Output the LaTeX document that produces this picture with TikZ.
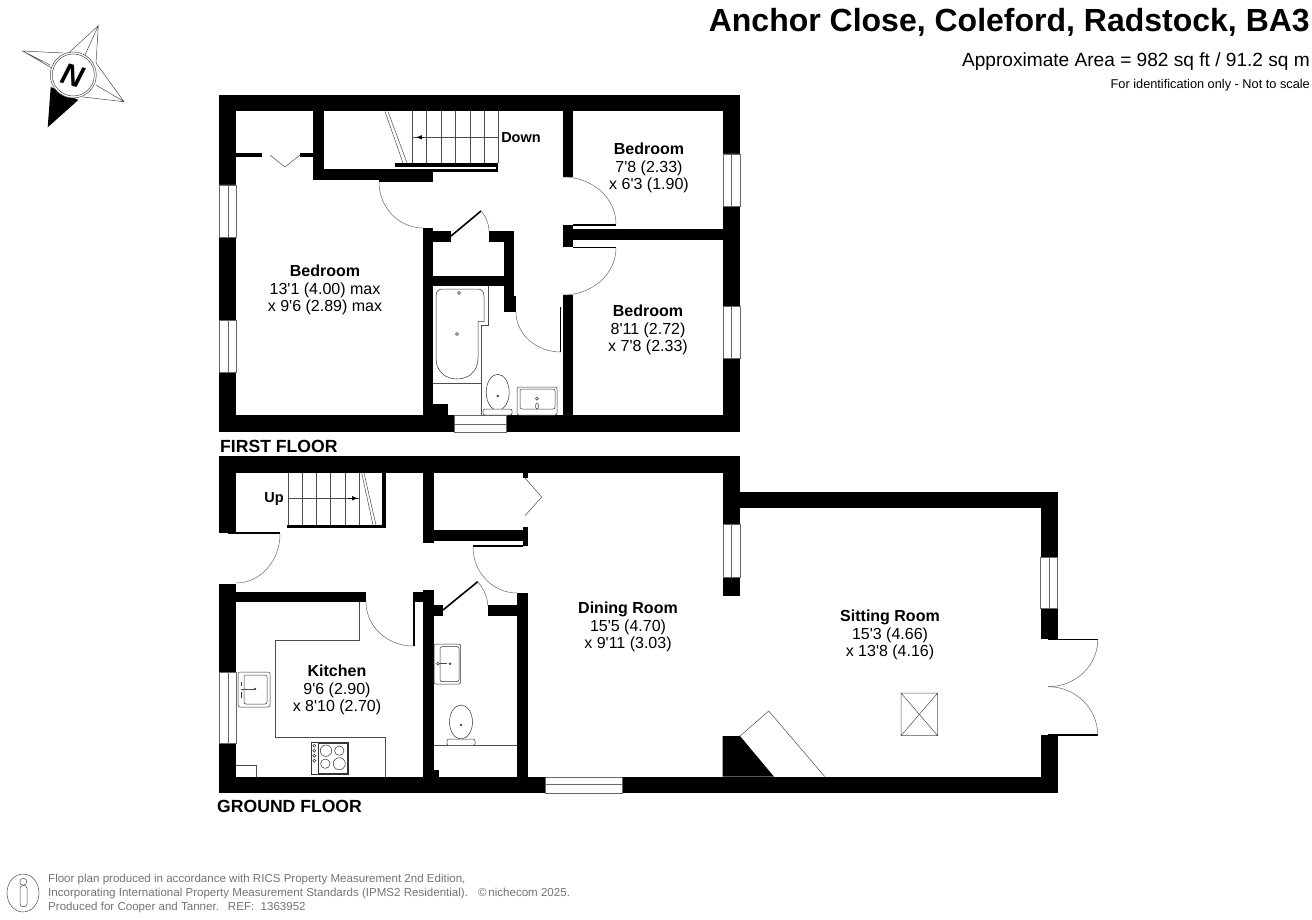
\documentclass[tikz,border=0pt]{standalone}
\usepackage{fontspec}
\setmainfont{Liberation Sans}[Ligatures=TeXOff]
\tikzset{
	wall/.style={fill=black},
	window/.style={fill=white,draw=black!60,line width=0.7pt},
	thinline/.style={draw=black!70,line width=0.5pt},
	fixture/.style={draw=black!80,line width=0.5pt,fill=white},
	swing/.style={draw=black!60,line width=0.5pt},
	roomlabel/.style={align=center,font=\fontsize{16}{17.5}\selectfont,inner sep=0pt},
	floorlabel/.style={anchor=west,font=\fontsize{17.6}{20}\selectfont\bfseries,inner sep=0pt},
	footer/.style={anchor=west,text=black!55,font=\fontsize{11.55}{13}\selectfont,inner sep=0pt},
	heading/.style={anchor=east,inner sep=0pt}
}

\begin{document}
\begin{tikzpicture}[x=1pt,y=-1pt]
	\useasboundingbox (0,0) rectangle (1312,920);

	% compass
	\fill (47.7,127.3) -- (50.7,87) -- (78.3,100) -- cycle;
	\draw[thinline] (70,51.7) -- (98.3,25.7) -- (96,63) (85,55) -- (98.3,25.7);
	\draw[thinline] (63,53) -- (22.7,51) -- (51.7,68) (50,65) -- (22.7,51);
	\draw[thinline] (96,63) -- (124,101.7) -- (83,97) (96,85) -- (124,101.7);
	\draw[fill=white,thinline] (73.3,75) circle (23);
	\draw[thinline] (73.3,75) circle (21);
	\node[rotate=-16,font=\fontsize{30}{30}\selectfont\bfseries\itshape,inner sep=0pt] (compassn) at (73,76) {N};

	% first floor walls
	\fill[wall] (219,95) rectangle (740,111.5);
	\fill[wall] (219,95) rectangle (236,432);
	\fill[wall] (723,95) rectangle (740,432);
	\fill[wall] (219,415) rectangle (740,432);
	\fill[wall] (313,111) rectangle (324,180);
	\fill[wall] (313,169) rectangle (433,180);
	\fill[wall] (379,180) rectangle (433,182);
	\fill[wall] (433,169) rectangle (498,172.5);
	\fill[wall] (395,163) rectangle (498,167);
	\fill[wall] (496,163) rectangle (498,172.5);
	\fill[wall] (236,153) rectangle (262,157);
	\fill[wall] (300,153) rectangle (313,157);
	\fill[wall] (423,228) rectangle (433,415);
	\fill[wall] (433,231) rectangle (451,242);
	\fill[wall] (489,231) rectangle (514,242);
	\fill[wall] (504,231) rectangle (514,296);
	\fill[wall] (504,296) rectangle (516,312);
	\fill[wall] (433,276) rectangle (504,286);
	\fill[wall] (433,404) rectangle (448,415);
	\fill[wall] (563,111) rectangle (573,177);
	\fill[wall] (563,225) rectangle (573,247);
	\fill[wall] (573,229) rectangle (723,240);
	\fill[wall] (573,224.5) rectangle (616,226);
	\fill[wall] (573,247) rectangle (616,248.5);
	\fill[wall] (563,295) rectangle (573,415);
	\fill[wall] (560,307) rectangle (561,352);

	% first floor windows
	\draw[window] (219,185) rectangle (236,237) (228,185) -- (228,237);
	\draw[window] (219,320) rectangle (236,372) (228,320) -- (228,372);
	\draw[window] (723,154) rectangle (740,206) (731,154) -- (731,206);
	\draw[window] (723,306) rectangle (740,358) (731,306) -- (731,358);
	\draw[window] (454,415) rectangle (506,432) (454,424) -- (506,424);

	% stairs going down
	\foreach \treadx in {412.7,426.7,441,455.7,470,484,498}
		\draw[thinline] (\treadx,111) -- (\treadx,163);
	\draw[thinline] (498,137.3) -- (412.7,137.3);
	\draw[-latex,line width=1pt] (424,137.3) -- (416,137.3);
	\draw[thinline] (385,111.5) -- (403,163) (388,111.5) -- (407,163);

	% first floor doors
	\draw[swing] (379,182) arc[start angle=180,end angle=90,x radius=44,y radius=46];
	\draw[swing] (563,177) arc[start angle=-90,end angle=0,x radius=53,y radius=47];
	\draw[swing] (616,248) arc[start angle=0,end angle=90,x radius=53,y radius=47];
	\draw[swing] (516,312) arc[start angle=180,end angle=90,x radius=45,y radius=40];
	\draw[line width=1.6pt] (451,236) -- (481,211);
	\draw[swing] (481,211) .. controls (486,216) and (489,224) .. (489,231);
	\draw[thinline] (270,155) -- (285,167) -- (300,155);

	% bathroom
	\draw[thinline] (488,286) -- (488,325.7) -- (481.7,325.7) -- (481.7,415) (433,383) -- (481.7,383);
	\draw[fixture] (436,297) .. controls (436,291) and (438,289) .. (443,289) -- (477,289)
		.. controls (482,289) and (484,291) .. (484,297) -- (484,321.7) -- (478,321.7) -- (478,358)
		.. controls (478,372) and (468,379) .. (457,379) .. controls (446,379) and (436,372) .. (436,358) -- cycle;
	\draw[fixture] (459,293) circle (1.5);
	\draw[fixture] (457,334) circle (1.5);
	\draw[fixture] (497.7,392.3) ellipse (11.5 and 18);
	\draw[fixture] (497.7,396) circle (1);
	\draw[fixture,rounded corners=2pt] (483,409) rectangle (512,415);
	\draw[fixture,rounded corners=2pt] (517,387) rectangle (557,415);
	\draw[fixture,rounded corners=2pt] (520,389) rectangle (555,409);
	\draw[fixture] (537,398.7) circle (1.5);
	\draw[fixture] (537,406) ellipse (1.5 and 3);

	% ground floor walls
	\fill[wall] (219,456) rectangle (740,473);
	\fill[wall] (219,456) rectangle (236,532.7);
	\fill[wall] (228,532) rectangle (280,534);
	\fill[wall] (219,584) rectangle (236,793);
	\fill[wall] (219,776.5) rectangle (1057.5,793);
	\fill[wall] (723,456) rectangle (740,524);
	\fill[wall] (723,577) rectangle (740,596);
	\fill[wall] (740,491.5) rectangle (1057.5,508);
	\fill[wall] (1040.5,491.5) rectangle (1057.5,639);
	\fill[wall] (1048,638.5) rectangle (1097.7,640);
	\fill[wall] (1048,734) rectangle (1097.7,736);
	\fill[wall] (1040.5,735) rectangle (1057.5,793);
	\fill[wall] (287,525) rectangle (386,528);
	\fill[wall] (382,473) rectangle (386,528);
	\fill[wall] (423,473) rectangle (434,542.7);
	\fill[wall] (434,530) rectangle (527,541);
	\fill[wall] (523,527) rectangle (528,546);
	\fill[wall] (523,473) rectangle (528,478);
	\fill[wall] (473,545) rectangle (523,547);
	\fill[wall] (236,592) rectangle (366,602);
	\fill[wall] (423,590) rectangle (434,793);
	\fill[wall] (413,592) rectangle (423,602);
	\fill[wall] (413,602) rectangle (414.5,646);
	\fill[wall] (434,605) rectangle (443,616);
	\fill[wall] (487.7,605) rectangle (517,615.7);
	\fill[wall] (517,593) rectangle (528,793);
	\fill[wall] (434,770) rectangle (439,776.5);
	\fill[wall] (722.7,736) -- (740,736) -- (774,776.7) -- (722.7,776.7) -- cycle;

	% ground floor windows
	\draw[window] (219,672) rectangle (236,743) (228,672) -- (228,743);
	\draw[window] (723,524) rectangle (740,577) (731,524) -- (731,577);
	\draw[window] (545,777) rectangle (622,793) (545,784.7) -- (622,784.7);
	\draw[window] (1040.5,557) rectangle (1057.5,608) (1049,557) -- (1049,608);

	% stairs going up
	\foreach \treadx in {288,302,316.7,330.7,345,359}
		\draw[thinline] (\treadx,473) -- (\treadx,525);
	\draw[thinline] (288,498.3) -- (359,498.3);
	\draw[-latex,line width=1pt] (348,498.3) -- (358,498.3);
	\draw[thinline] (361.7,473) -- (373,525) (364,473) -- (376,525);

	% ground floor doors
	\draw[swing] (280,534) arc[start angle=0,end angle=90,x radius=44,y radius=49];
	\draw[swing] (366,602) arc[start angle=180,end angle=90,x radius=47,y radius=44];
	\draw[swing] (473,547) arc[start angle=180,end angle=90,x radius=44,y radius=46];
	\draw[swing] (1097.7,640) arc[start angle=0,end angle=90,x radius=49.7,y radius=46.7];
	\draw[swing] (1048,686.7) arc[start angle=-90,end angle=0,x radius=49.7,y radius=48.3];
	\draw[line width=1.6pt] (443,610) -- (477.7,581.7);
	\draw[swing] (477.7,581.7) .. controls (483,588) and (487.7,597) .. (487.7,605);
	\draw[thinline] (525,478) -- (541.7,497) -- (525,515.7);

	% kitchen
	\draw[thinline] (359,602) -- (359,640.7) -- (275,640.7) -- (275,737) -- (385.7,737) -- (385.7,776.5);
	\draw[thinline] (236,765) -- (256.7,765) -- (256.7,776.5);
	\draw[fixture,rounded corners=2pt] (238,672) rectangle (270,707);
	\draw[fixture,rounded corners=2pt] (244,675) rectangle (267,704);
	\draw[thinline] (241,689) -- (255,689);
	\draw[fixture] (255,689) circle (1);
	\draw[fixture] (241,682) -- (241,686) (241,692) -- (241,698);
	\draw[fixture] (311,742) rectangle (348,774);
	\draw[fixture] (318,743) rectangle (347,773);
	\draw[fixture] (326,750.7) circle (5.7);
	\draw[fixture] (339.3,750.7) circle (4.7);
	\draw[fixture] (325.3,763.7) circle (4.7);
	\draw[fixture] (339.3,763.7) circle (6);
	\foreach \knoby in {745.7,750.7,755.7,760.7}
		\draw[fixture] (314.3,\knoby) circle (1.5);

	% cloakroom
	\draw[thinline] (434,745.7) -- (517,745.7);
	\draw[fixture,rounded corners=2pt] (434,644) rectangle (460.7,684);
	\draw[fixture,rounded corners=2pt] (440,646.7) rectangle (459,681.7);
	\draw[fixture] (438,663.7) circle (1.5);
	\draw[thinline] (439,663.7) -- (447,663.7);
	\draw[fixture] (450,663.7) circle (1);
	\draw[fixture] (461,722) ellipse (11.5 and 17);
	\draw[fixture] (461,725) circle (1);
	\draw[fixture,rounded corners=2pt] (447,739) rectangle (475,745.7);

	% chimney breast and roof light
	\draw[thinline] (740,736) -- (768.7,711) -- (824.7,776.5);
	\draw[thinline] (901,693) rectangle (937.7,735.7) (901,693) -- (937.7,735.7) (901,735.7) -- (937.7,693);

	% titles
	\node[heading,font=\fontsize{32}{36}\selectfont\bfseries] (title) at (1310,22.5) {Anchor Close, Coleford, Radstock, BA3};
	\node[heading,font=\fontsize{19.1}{21}\selectfont] (area) at (1310,61.5) {Approximate Area = 982 sq ft / 91.2 sq m};
	\node[heading,font=\fontsize{12.75}{14}\selectfont] (scalenote) at (1310,85) {For identification only - Not to scale};

	% room names
	\node[roomlabel] (bedrooma) at (325,290) {\textbf{Bedroom}\\13'1 (4.00) max\\x 9'6 (2.89) max};
	\node[roomlabel] (bedroomb) at (649,168) {\textbf{Bedroom}\\7'8 (2.33)\\x 6'3 (1.90)};
	\node[roomlabel] (bedroomc) at (648,330) {\textbf{Bedroom}\\8'11 (2.72)\\x 7'8 (2.33)};
	\node[roomlabel] (dining) at (628,627) {\textbf{Dining Room}\\15'5 (4.70)\\x 9'11 (3.03)};
	\node[roomlabel] (sitting) at (890,635) {\textbf{Sitting Room}\\15'3 (4.66)\\x 13'8 (4.16)};
	\node[roomlabel] (kitchen) at (337,690) {\textbf{Kitchen}\\9'6 (2.90)\\x 8'10 (2.70)};
	\node[roomlabel,font=\fontsize{14.5}{16}\selectfont] (down) at (521,138) {\textbf{Down}};
	\node[roomlabel,font=\fontsize{14.5}{16}\selectfont] (up) at (274,499) {\textbf{Up}};
	\node[floorlabel] (firstfloor) at (220,446) {FIRST FLOOR};
	\node[floorlabel] (groundfloor) at (217,806) {GROUND FLOOR};

	% footer
	\draw[thinline] (23,893) ellipse (16 and 19);
	\draw[thinline] (23.3,881.7) circle (3.5);
	\draw[thinline,rounded corners=3pt] (20,885.5) rectangle (27,906.7);
	\node[footer] (footera) at (48,880) {Floor plan produced in accordance with RICS Property Measurement 2nd Edition,};
	\node[footer] (footerb) at (48,894) {Incorporating International Property Measurement Standards (IPMS2 Residential).\hspace{10pt}\textcopyright\,nichecom 2025.};
	\node[footer] (footerc) at (48,908) {Produced for Cooper and Tanner.\hspace{9pt}REF:\ \ 1363952};
\end{tikzpicture}
\end{document}
